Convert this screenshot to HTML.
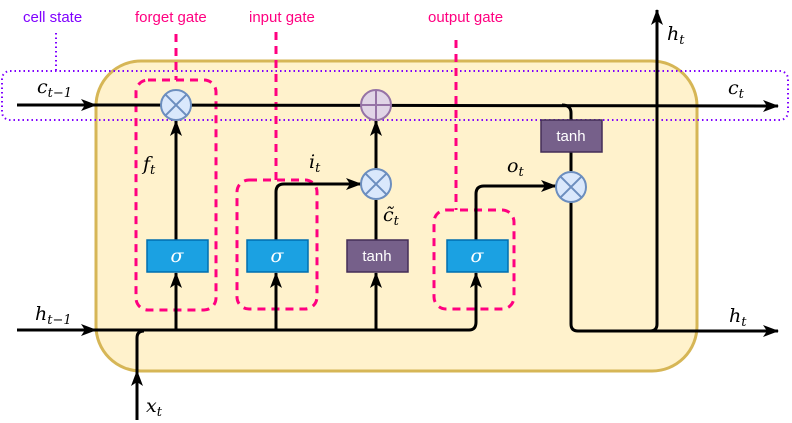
<!DOCTYPE html>
<html><head><meta charset="utf-8"><style>
html,body{margin:0;padding:0;background:#fff;}
svg{display:block;}
.m{font-family:"DejaVu Serif","Liberation Serif",serif;font-style:italic;font-size:19px;}
.s{font-family:"DejaVu Serif","Liberation Serif",serif;font-style:italic;font-size:13px;}
.l{font-family:"Liberation Sans",sans-serif;font-size:15px;}
</style></head><body>
<svg width="792" height="423" viewBox="0 0 792 423" xmlns="http://www.w3.org/2000/svg">
<defs>
<marker id="a" markerWidth="16" markerHeight="12" refX="15" refY="6" orient="auto" markerUnits="userSpaceOnUse" viewBox="0 0 16 12">
<path d="M0,0 L16,6 L0,12 L4,6 z" fill="#000"/></marker>
</defs>
<rect x="96" y="61" width="601" height="310" rx="45" fill="#fff2cc" stroke="#d6b656" stroke-width="3"/>
<rect x="2" y="71" width="786" height="49" rx="8" fill="none" stroke="#7f00ff" stroke-width="2" stroke-dasharray="1.5,3"/>
<line x1="56" y1="33" x2="56" y2="71" stroke="#7f00ff" stroke-width="2" stroke-dasharray="1.5,3"/>
<g fill="none" stroke="#ff0080" stroke-width="3" stroke-dasharray="8,6">
<rect x="136" y="80" width="80" height="230" rx="12"/>
<path d="M176,34 V80"/>
<rect x="237" y="180" width="80" height="129" rx="12"/>
<path d="M276,32 V180"/>
<rect x="434" y="210" width="80" height="99" rx="12"/>
<path d="M456,40 V210"/>
</g>
<g fill="none" stroke="#000" stroke-width="3">
<line x1="17" y1="105" x2="96" y2="105" marker-end="url(#a)"/>
<line x1="95" y1="105" x2="778" y2="106" marker-end="url(#a)"/>
<path d="M562,105 Q571,105 571,113 V120"/>
<line x1="17" y1="330" x2="96" y2="330" marker-end="url(#a)"/>
<path d="M95,330 H469 Q476,330 476,322 V273" marker-end="url(#a)"/>
<path d="M137,420 V371" marker-end="url(#a)"/>
<path d="M137,371 V338 Q137,331 144,331"/>
<line x1="176" y1="330" x2="176" y2="273" marker-end="url(#a)"/>
<line x1="276" y1="330" x2="276" y2="273" marker-end="url(#a)"/>
<line x1="376" y1="330" x2="376" y2="273" marker-end="url(#a)"/>
<line x1="176" y1="240" x2="176" y2="121" marker-end="url(#a)"/>
<path d="M276,240 V192 Q276,184 284,184 H361" marker-end="url(#a)"/>
<line x1="376" y1="240" x2="376" y2="200"/>
<line x1="376" y1="169" x2="376" y2="121" marker-end="url(#a)"/>
<path d="M476,240 V194 Q476,186 484,186 H556" marker-end="url(#a)"/>
<line x1="571" y1="152" x2="571" y2="171"/>
<path d="M571,202 V324 Q571,331 578,331 H650 Q657,331 657,324 V10" marker-end="url(#a)"/>
<line x1="650" y1="331" x2="778" y2="331" marker-end="url(#a)"/>
</g>
<g stroke="#6c8ebf" stroke-width="2" fill="#dae8fc">
<circle cx="176" cy="105" r="15"/><path d="M165.4,94.4 L186.6,115.6 M186.6,94.4 L165.4,115.6"/>
<circle cx="376" cy="184" r="15"/><path d="M365.4,173.4 L386.6,194.6 M386.6,173.4 L365.4,194.6"/>
<circle cx="571" cy="187" r="15"/><path d="M560.4,176.4 L581.6,197.6 M581.6,176.4 L560.4,197.6"/>
</g>
<circle cx="376" cy="105" r="15" fill="#e1d5e7" stroke="#9673a6" stroke-width="2"/>
<path d="M361,105 H391 M376,90 V120" stroke="#9673a6" stroke-width="2"/>
<g stroke="#006eaf" stroke-width="1.5" fill="#1ba1e2">
<rect x="147" y="240" width="61" height="32"/>
<rect x="247" y="240" width="61" height="32"/>
<rect x="447" y="240" width="61" height="32"/>
</g>
<g stroke="#432d57" stroke-width="1.5" fill="#76608a">
<rect x="347" y="240" width="61" height="32"/>
<rect x="541" y="120" width="61" height="32"/>
</g>
<g fill="#fff" text-anchor="middle">
<text x="177" y="262" class="m" font-size="17">σ</text>
<text x="277" y="262" class="m" font-size="17">σ</text>
<text x="477" y="262" class="m" font-size="17">σ</text>
<text x="377" y="261" class="l" font-size="14">tanh</text>
<text x="571" y="141" class="l" font-size="14">tanh</text>
</g>
<g class="l" fill="#ff0080">
<text x="135" y="22">forget gate</text>
<text x="249" y="22">input gate</text>
<text x="428" y="22">output gate</text>
</g>
<text x="23" y="22" class="l" fill="#7f00ff">cell state</text>
<g fill="#000">
<text x="37" y="93" class="m">c<tspan class="s" dy="4">t−1</tspan></text>
<text x="728" y="94" class="m">c<tspan class="s" dy="4">t</tspan></text>
<text x="143" y="170" class="m">f<tspan class="s" dy="4">t</tspan></text>
<text x="309" y="168" class="m">i<tspan class="s" dy="4">t</tspan></text>
<text x="507" y="172" class="m">o<tspan class="s" dy="4">t</tspan></text>
<text x="383" y="221" class="m">c̃<tspan class="s" dy="4">t</tspan></text>
<text x="35" y="320" class="m">h<tspan class="s" dy="4">t−1</tspan></text>
<text x="729" y="322" class="m">h<tspan class="s" dy="4">t</tspan></text>
<text x="667" y="40" class="m">h<tspan class="s" dy="4">t</tspan></text>
<text x="146" y="412" class="m">x<tspan class="s" dy="4">t</tspan></text>
</g>
</svg>
</body></html>
